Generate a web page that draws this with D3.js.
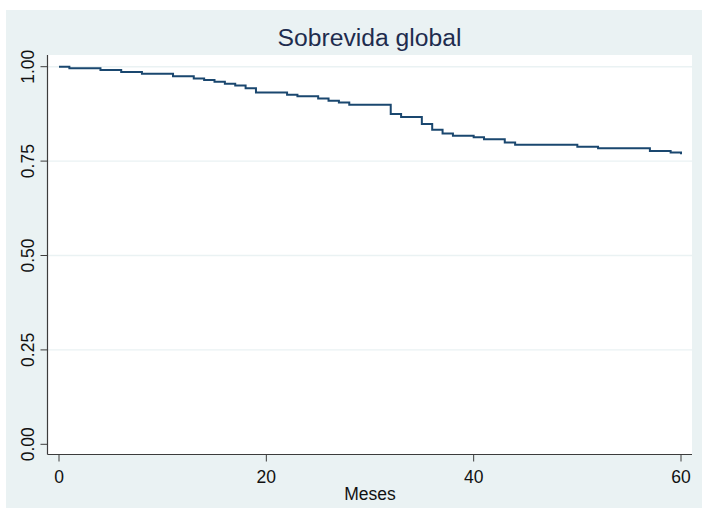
<!DOCTYPE html>
<html>
<head>
<meta charset="utf-8">
<script src="https://cdn.jsdelivr.net/npm/d3@7"></script>
<style>
  html, body { margin: 0; padding: 0; background: #ffffff; }
  svg { display: block; }
</style>
</head>
<body>
<svg id="chart" width="702" height="508"></svg>
<script>
// ---- Data ----
const title = "Sobrevida global";
const xLabel = "Meses";
const months   = [0, 1, 4, 6, 8, 11, 13, 14, 15, 16, 17, 18, 19, 22, 23, 25, 26, 27, 28, 32, 33, 35, 36, 37, 38, 40, 41, 43, 44, 50, 52, 57, 59, 60];
const survival = [1.000, 0.996, 0.991, 0.986, 0.981, 0.975, 0.969, 0.965, 0.960, 0.955, 0.950, 0.943, 0.932, 0.926, 0.922, 0.916, 0.910, 0.905, 0.899, 0.875, 0.867, 0.848, 0.833, 0.823, 0.817, 0.813, 0.808, 0.799, 0.793, 0.788, 0.784, 0.777, 0.773, 0.768];
const xTicks = [0, 20, 40, 60];
const yTicks = [0, 0.25, 0.5, 0.75, 1];
const yTickLabels = ["0.00", "0.25", "0.50", "0.75", "1.00"];

// ---- Layout ----
const svg = d3.select("#chart");
const font = "'Liberation Sans', Arial, sans-serif";
const bg = "#eaf2f3";
const plot = { left: 47.5, right: 692, top: 55, bottom: 454.5 };

const x = d3.scaleLinear().domain([0, 60]).range([59, 681]);
const y = d3.scaleLinear().domain([0, 1]).range([444.3, 66.7]);

// outer panel
svg.append("rect").attr("x", 6).attr("y", 10).attr("width", 696).attr("height", 498).attr("fill", bg);
// plot region
svg.append("rect").attr("x", plot.left).attr("y", plot.top)
  .attr("width", plot.right - plot.left).attr("height", plot.bottom - plot.top).attr("fill", "#ffffff");

// gridlines
svg.append("g").selectAll("line").data(yTicks.filter(d => d > 0)).join("line")
  .attr("x1", plot.left).attr("x2", plot.right)
  .attr("y1", d => y(d)).attr("y2", d => y(d))
  .attr("stroke", bg).attr("stroke-width", 1.4);

// survival curve
const pts = months.map((m, i) => [m, survival[i]]);
const line = d3.line().x(d => x(d[0])).y(d => y(d[1])).curve(d3.curveStepAfter);
svg.append("path").datum(pts).attr("d", line)
  .attr("fill", "none").attr("stroke", "#1a476f").attr("stroke-width", 2)
  .attr("stroke-linejoin", "miter");

// axes lines
const axisColor = "#3c3c3c";
svg.append("line").attr("x1", plot.left).attr("x2", plot.left).attr("y1", plot.top).attr("y2", plot.bottom)
  .attr("stroke", axisColor).attr("stroke-width", 1.2);
svg.append("line").attr("x1", plot.left).attr("x2", plot.right).attr("y1", plot.bottom).attr("y2", plot.bottom)
  .attr("stroke", axisColor).attr("stroke-width", 1.2);

// x ticks
const gx = svg.append("g");
gx.selectAll("line").data(xTicks).join("line")
  .attr("x1", d => x(d)).attr("x2", d => x(d))
  .attr("y1", plot.bottom).attr("y2", plot.bottom + 7)
  .attr("stroke", axisColor).attr("stroke-width", 1);
gx.selectAll("text").data(xTicks).join("text")
  .attr("x", d => x(d)).attr("y", 482.5)
  .attr("text-anchor", "middle").attr("font-family", font).attr("font-size", 17.5)
  .attr("fill", "#111").text(d => d);

// y ticks
const gy = svg.append("g");
gy.selectAll("line").data(yTicks).join("line")
  .attr("x1", plot.left - 7).attr("x2", plot.left)
  .attr("y1", d => y(d)).attr("y2", d => y(d))
  .attr("stroke", axisColor).attr("stroke-width", 1);
gy.selectAll("text").data(yTicks).join("text")
  .attr("transform", d => `translate(33.5, ${y(d)}) rotate(-90)`)
  .attr("text-anchor", "middle").attr("font-family", font).attr("font-size", 17.5)
  .attr("fill", "#111").text((d, i) => yTickLabels[i]);

// x label
svg.append("text").attr("x", 370).attr("y", 499.5).attr("text-anchor", "middle")
  .attr("font-family", font).attr("font-size", 17.5).attr("fill", "#111").text(xLabel);

// title
svg.append("text").attr("x", 369.5).attr("y", 45.7).attr("text-anchor", "middle")
  .attr("font-family", font).attr("font-size", 24.7).attr("fill", "#1e2c4e").text(title);
</script>
</body>
</html>
